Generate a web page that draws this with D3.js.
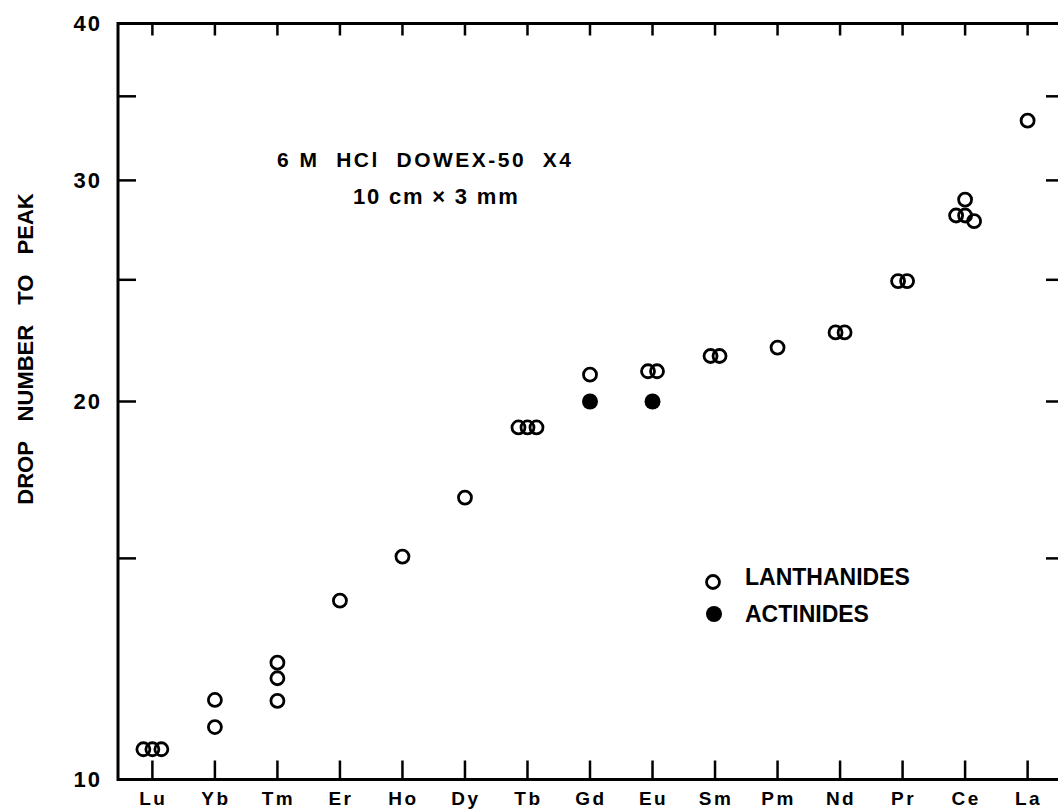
<!DOCTYPE html>
<html>
<head>
<meta charset="utf-8">
<script src="https://cdn.jsdelivr.net/npm/d3@7"></script>
<style>
  html, body { margin: 0; padding: 0; background: #fff; }
  svg { display: block; }
  text { font-family: "Liberation Sans", Arial, sans-serif; font-weight: bold; fill: #000; }
</style>
</head>
<body>
<svg id="chart" width="1058" height="812"></svg>
<script>
// Elution order from the column (heaviest first)
const elements = ["Lu", "Yb", "Tm", "Er", "Ho", "Dy", "Tb", "Gd", "Eu", "Sm", "Pm", "Nd", "Pr", "Ce", "La"];

// Lanthanide peaks: element and drop number to peak (repeat runs listed separately)
const lanthanideElement = ["Lu", "Lu", "Lu", "Yb", "Yb", "Tm", "Tm", "Tm", "Er", "Ho", "Dy",
                           "Tb", "Tb", "Tb", "Gd", "Eu", "Eu", "Sm", "Sm", "Pm", "Nd", "Nd",
                           "Pr", "Pr", "Ce", "Ce", "Ce", "Ce", "La"];
const lanthanideDrop    = [10.57, 10.57, 10.57, 11.57, 11.01, 12.39, 12.04, 11.55, 13.88, 15.05, 16.77,
                           19.07, 19.07, 19.07, 21.01, 21.14, 21.14, 21.74, 21.74, 22.08, 22.70, 22.70,
                           24.94, 24.94, 28.96, 28.13, 28.13, 27.84, 33.47];

// Actinide peaks, plotted at the lanthanide homologue position
const actinideElement = ["Gd", "Eu"];
const actinideDrop    = [20.0, 20.0];

const yTickValues = [10, 15, 20, 25, 30, 35, 40];
const yTickLabels = ["10", "", "20", "", "30", "", "40"];

const yAxisTitle = "DROP NUMBER TO PEAK";
const noteLines = ["6 M  HCl  DOWEX-50  X4", "10 cm × 3 mm"];
const legendLabels = ["LANTHANIDES", "ACTINIDES"];

const svg = d3.select("#chart");
const m = { left: 118, right: 1062, top: 23.5, bottom: 779.5 };

const x = d3.scalePoint().domain(elements).range([m.left, m.right]).padding(0.55);
const y = d3.scaleLog().domain([10, 40]).range([m.bottom, m.top]);

const R = 6.5;
const SPREAD = 9;

// Spread repeat peaks that share a position so every run stays visible
function layout(els, vals) {
  const pts = els.map((e, i) => ({ e, v: vals[i], py: y(vals[i]) }));
  const out = [];
  d3.group(pts, d => d.e).forEach(list => {
    list.sort((a, b) => a.py - b.py);
    let cluster = [];
    const flush = () => {
      const n = cluster.length;
      cluster.forEach((p, k) => { p.dx = (k - (n - 1) / 2) * SPREAD; out.push(p); });
      cluster = [];
    };
    list.forEach(p => {
      if (cluster.length && p.py - cluster[0].py > 8) flush();
      cluster.push(p);
    });
    flush();
  });
  return out;
}

// Frame
const frame = svg.append("g").attr("stroke", "#000").attr("stroke-width", 3).attr("fill", "none");
frame.append("rect")
  .attr("x", m.left).attr("y", m.top)
  .attr("width", m.right - m.left).attr("height", m.bottom - m.top);

// Category ticks, bottom and top (inward)
const tickG = svg.append("g").attr("stroke", "#000").attr("stroke-width", 2.5);
tickG.selectAll("line.b").data(elements).join("line").attr("class", "b")
  .attr("x1", d => x(d)).attr("x2", d => x(d))
  .attr("y1", m.bottom).attr("y2", m.bottom - 19);
tickG.selectAll("line.t").data(elements).join("line").attr("class", "t")
  .attr("x1", d => x(d)).attr("x2", d => x(d))
  .attr("y1", m.top).attr("y2", m.top + 12);

// Value ticks, left and right (inward)
const inner = yTickValues.filter(v => v > 10 && v < 40);
tickG.selectAll("line.l").data(inner).join("line").attr("class", "l")
  .attr("x1", m.left).attr("x2", m.left + 18)
  .attr("y1", d => y(d)).attr("y2", d => y(d));
tickG.selectAll("line.r").data(inner).join("line").attr("class", "r")
  .attr("x1", m.right).attr("x2", m.right - 16)
  .attr("y1", d => y(d)).attr("y2", d => y(d));

// Category labels
svg.append("g").selectAll("text").data(elements).join("text")
  .attr("x", d => x(d) + 1).attr("y", 805)
  .attr("text-anchor", "middle")
  .attr("font-size", 19).attr("letter-spacing", 2.5)
  .text(d => d);

// Value labels
svg.append("g").selectAll("text").data(yTickValues.map((v, i) => ({ v, t: yTickLabels[i] })).filter(d => d.t))
  .join("text")
  .attr("x", 102).attr("y", d => y(d.v))
  .attr("dy", "0.36em")
  .attr("text-anchor", "end")
  .attr("font-size", 22).attr("letter-spacing", 2)
  .text(d => d.t);

// Axis title
svg.append("text")
  .attr("transform", `translate(33, 349) rotate(-90)`)
  .attr("text-anchor", "middle")
  .attr("font-size", 22).attr("word-spacing", 14)
  .text(yAxisTitle);

// Column conditions (wide stencil lettering)
svg.append("text").attr("x", 277).attr("y", 167)
  .attr("font-size", 21).attr("letter-spacing", 2.5).attr("xml:space", "preserve")
  .text(noteLines[0]);
svg.append("text").attr("x", 353).attr("y", 204)
  .attr("font-size", 22).attr("letter-spacing", 1.8).attr("xml:space", "preserve")
  .text(noteLines[1]);

// Points
const lan = layout(lanthanideElement, lanthanideDrop);
const act = layout(actinideElement, actinideDrop);

svg.append("g").selectAll("circle").data(lan).join("circle")
  .attr("cx", d => x(d.e) + d.dx).attr("cy", d => d.py)
  .attr("r", R).attr("fill", "none").attr("stroke", "#000").attr("stroke-width", 2.8);

svg.append("g").selectAll("circle").data(act).join("circle")
  .attr("cx", d => x(d.e) + d.dx).attr("cy", d => d.py)
  .attr("r", 8).attr("fill", "#000");

// Legend
const lg = svg.append("g");
lg.append("circle").attr("cx", 713).attr("cy", 582).attr("r", R)
  .attr("fill", "none").attr("stroke", "#000").attr("stroke-width", 2.8);
lg.append("circle").attr("cx", 714).attr("cy", 614).attr("r", 8).attr("fill", "#000");
lg.selectAll("text").data(legendLabels).join("text")
  .attr("x", 745).attr("y", (d, i) => 585 + i * 37)
  .attr("font-size", 23)
  .text(d => d);
</script>
</body>
</html>
